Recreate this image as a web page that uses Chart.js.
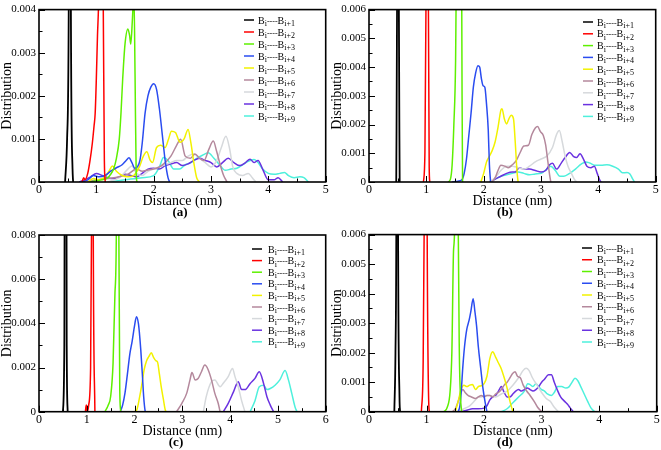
<!DOCTYPE html>
<html><head><meta charset="utf-8">
<script src="https://cdn.jsdelivr.net/npm/chart.js@4.4.0/dist/chart.umd.min.js"></script>
<style>
html,body{margin:0;padding:0;background:#fff;}
#wrap{position:relative;width:661px;height:450px;overflow:hidden;background:#fff;}
.p{position:absolute;}
.tag{position:absolute;font:bold 13px "Liberation Serif";transform:translate(-50%,-50%);white-space:nowrap;color:#000;}
</style></head><body><div id="wrap">
<div class="p" style="left:0;top:0"><canvas id="ca" width="330" height="225"></canvas></div>
<div class="p" style="left:330px;top:0"><canvas id="cb" width="331" height="225"></canvas></div>
<div class="p" style="left:0;top:225px"><canvas id="cc" width="330" height="225"></canvas></div>
<div class="p" style="left:330px;top:225px"><canvas id="cd" width="331" height="225"></canvas></div>
<div class="tag" style="left:180px;top:212px">(a)</div>
<div class="tag" style="left:505px;top:212px">(b)</div>
<div class="tag" style="left:176px;top:442px">(c)</div>
<div class="tag" style="left:505px;top:442px">(d)</div>
</div>
<script>
// ---- data ----
const panelTags = ['(a)', '(b)', '(c)', '(d)'];
const seriesSubs = ['i+1', 'i+2', 'i+3', 'i+4', 'i+5', 'i+6', 'i+7', 'i+8', 'i+9'];
const xMaxes = [5, 5, 6, 5];
const yMaxes = [0.004, 0.006, 0.008, 0.006];
const yMajorSteps = [0.001, 0.001, 0.002, 0.001];

// panel (a)
const a1 = [[0.455,0],[0.49,0.001],[0.52,0.0045],[0.54,0.02],[0.555,0.0045],[0.585,0.0003],[0.595,0]];
const a2 = [[0.75,0],[0.78,0.0001],[0.8,0.00005],[0.85,0.0002],[0.89,0.0005],[0.93,0.0009],[0.96,0.0013],[0.98,0.0016],[1.0,0.0024],[1.02,0.0034],[1.04,0.0042],[1.08,0.008],[1.12,0.0042],[1.14,0.0005],[1.155,0]];
const a3 = [[0.9,0],[1.0,0.00003],[1.1,0.00005],[1.2,0.0001],[1.25,0.00018],[1.3,0.0003],[1.35,0.00055],[1.4,0.001],[1.43,0.0016],[1.46,0.0024],[1.5,0.0032],[1.55,0.00355],[1.58,0.0034],[1.6,0.0032],[1.63,0.0038],[1.655,0.0044],[1.675,0.0025],[1.695,0.0002],[1.71,0]];
const a4 = [[0.75,0],[0.85,0.00005],[0.95,0.00015],[1.05,0.00012],[1.15,0.00015],[1.25,0.00025],[1.35,0.00033],[1.45,0.0004],[1.52,0.0005],[1.57,0.00056],[1.62,0.00045],[1.67,0.00032],[1.72,0.00036],[1.76,0.0005],[1.8,0.0009],[1.85,0.0016],[1.9,0.002],[1.95,0.0022],[2.0,0.00228],[2.05,0.00215],[2.1,0.0017],[2.15,0.0011],[2.2,0.0005],[2.25,0.0001],[2.28,0]];
const a5 = [[0.85,0],[0.95,0.00008],[1.05,0.00005],[1.15,0.00012],[1.22,0.00025],[1.28,0.00037],[1.35,0.00025],[1.45,0.00015],[1.55,0.00012],[1.65,0.00015],[1.75,0.00035],[1.82,0.0006],[1.88,0.0007],[1.94,0.0005],[1.98,0.00045],[2.05,0.0008],[2.12,0.00085],[2.2,0.0008],[2.26,0.001],[2.31,0.00118],[2.38,0.00115],[2.46,0.00092],[2.53,0.001],[2.6,0.00122],[2.65,0.0009],[2.7,0.00045],[2.75,0.0001],[2.8,0]];
const a6 = [[0.85,0],[1.0,0.00005],[1.2,0.00008],[1.4,0.00012],[1.55,0.00018],[1.7,0.0003],[1.8,0.00025],[1.9,0.00028],[2.0,0.0003],[2.1,0.00035],[2.2,0.00045],[2.3,0.0006],[2.4,0.00085],[2.47,0.00099],[2.55,0.0006],[2.64,0.00055],[2.72,0.00065],[2.8,0.00055],[2.88,0.0005],[2.96,0.00075],[3.04,0.00095],[3.1,0.0007],[3.16,0.0004],[3.22,0.00015],[3.28,0]];
const a7 = [[1.2,0],[1.4,0.0001],[1.55,0.0003],[1.62,0.00037],[1.7,0.0002],[1.8,0.00015],[1.9,0.00025],[2.0,0.0003],[2.1,0.00035],[2.2,0.0004],[2.3,0.00045],[2.4,0.0005],[2.5,0.0005],[2.6,0.0006],[2.7,0.00065],[2.8,0.00055],[2.9,0.00045],[3.0,0.00035],[3.1,0.0005],[3.18,0.0008],[3.26,0.00106],[3.32,0.0008],[3.38,0.00035],[3.45,0.0002],[3.55,0.00015],[3.65,0.0002],[3.72,0.0001],[3.78,0]];
const a8 = [[0.7,0],[0.8,0.00005],[0.9,0.00012],[1.0,0.0002],[1.1,0.00015],[1.2,0.0001],[1.3,0.00008],[1.4,0.00012],[1.5,0.00018],[1.6,0.00015],[1.7,0.00012],[1.8,0.0002],[1.9,0.0003],[2.0,0.00032],[2.1,0.0003],[2.2,0.00038],[2.3,0.00042],[2.4,0.00045],[2.5,0.00038],[2.6,0.00042],[2.7,0.0005],[2.8,0.00055],[2.9,0.0005],[3.0,0.00045],[3.1,0.00035],[3.2,0.00045],[3.3,0.00055],[3.4,0.00045],[3.5,0.00038],[3.6,0.00045],[3.68,0.00053],[3.75,0.00045],[3.82,0.0005],[3.9,0.0003],[4.0,0.00005],[4.1,0.00005],[4.17,0.0001],[4.25,0]];
const a9 = [[1.2,0],[1.5,0.00005],[1.8,0.0001],[2.0,0.00015],[2.1,0.00035],[2.17,0.00057],[2.25,0.0005],[2.35,0.0003],[2.45,0.0003],[2.55,0.0004],[2.65,0.00045],[2.75,0.00055],[2.85,0.00062],[2.95,0.00068],[3.05,0.00055],[3.15,0.0004],[3.25,0.00027],[3.35,0.0003],[3.45,0.00032],[3.55,0.0004],[3.65,0.00048],[3.75,0.00052],[3.82,0.00045],[3.9,0.0003],[4.0,0.0002],[4.1,0.00018],[4.2,0.0002],[4.28,0.00022],[4.35,0.00015],[4.45,0.0001],[4.55,0.00012],[4.62,0.0001],[4.7,0]];

// panel (b)
const b1 = [[0.475,0],[0.49,0.0065],[0.505,0.025],[0.52,0.0065],[0.535,0]];
const b2 = [[0.95,0],[0.975,0.001],[0.995,0.0065],[1.015,0.025],[1.035,0.0065],[1.05,0.0005],[1.06,0]];
const b3 = [[1.38,0],[1.42,0.0001],[1.45,0.0006],[1.48,0.002],[1.51,0.0042],[1.52,0.0065],[1.56,0.012],[1.605,0.012],[1.617,0.0065],[1.623,0.003],[1.632,0]];
const b4 = [[1.45,0],[1.55,0.00003],[1.62,0.00008],[1.66,0.0003],[1.7,0.0008],[1.74,0.0016],[1.78,0.0024],[1.82,0.0033],[1.86,0.0038],[1.9,0.00405],[1.93,0.004],[1.96,0.0036],[1.99,0.00335],[2.02,0.0033],[2.05,0.0027],[2.08,0.0018],[2.1,0.0006],[2.12,0]];
const b5 = [[1.95,0],[2.0,0.0003],[2.05,0.0007],[2.1,0.0009],[2.15,0.0011],[2.2,0.0014],[2.25,0.0019],[2.3,0.0025],[2.32,0.00255],[2.36,0.0022],[2.4,0.00202],[2.44,0.0022],[2.48,0.00232],[2.52,0.0022],[2.55,0.0014],[2.58,0.0004],[2.6,0]];
const b6 = [[2.15,0],[2.2,0.00015],[2.25,0.0004],[2.3,0.00058],[2.37,0.00055],[2.43,0.0005],[2.5,0.0006],[2.57,0.00075],[2.63,0.001],[2.7,0.00125],[2.78,0.00128],[2.84,0.00165],[2.9,0.00188],[2.94,0.00193],[2.99,0.00175],[3.04,0.00162],[3.08,0.0013],[3.12,0.0007],[3.15,0.00025],[3.17,0]];
const b7 = [[2.1,0],[2.2,0.00015],[2.3,0.0004],[2.4,0.00055],[2.5,0.00055],[2.6,0.0005],[2.7,0.00045],[2.8,0.00055],[2.9,0.0007],[3.0,0.0008],[3.1,0.0009],[3.2,0.0012],[3.27,0.00165],[3.32,0.00179],[3.37,0.0014],[3.42,0.0009],[3.47,0.00055],[3.53,0.0003],[3.58,0.0001],[3.62,0]];
const b8 = [[2.1,0],[2.2,0.0001],[2.3,0.0002],[2.4,0.0003],[2.5,0.00035],[2.55,0.00035],[2.62,0.0005],[2.7,0.00045],[2.8,0.00045],[2.9,0.0004],[3.0,0.00035],[3.08,0.0004],[3.15,0.0006],[3.2,0.00065],[3.27,0.00045],[3.35,0.00065],[3.42,0.00085],[3.5,0.00103],[3.57,0.00088],[3.62,0.00085],[3.68,0.00098],[3.74,0.0008],[3.8,0.00055],[3.87,0.0005],[3.93,0.00055],[3.98,0.0003],[4.03,0.00005],[4.05,0]];
const b9 = [[2.1,0],[2.2,0.0001],[2.3,0.0002],[2.4,0.00025],[2.5,0.0003],[2.6,0.00035],[2.7,0.0003],[2.8,0.00025],[2.9,0.00028],[3.0,0.0003],[3.1,0.00045],[3.17,0.00055],[3.25,0.0004],[3.33,0.0002],[3.4,0.0002],[3.5,0.0003],[3.6,0.00045],[3.7,0.00062],[3.78,0.0007],[3.85,0.00066],[3.95,0.00058],[4.05,0.00058],[4.15,0.0006],[4.25,0.00055],[4.35,0.00045],[4.42,0.00032],[4.5,0.00033],[4.55,0.00028],[4.6,0.0001],[4.63,0]];

// panel (c)
const c1 = [[0.5,0],[0.53,0.003],[0.555,0.04],[0.58,0.003],[0.6,0]];
const c2 = [[0.97,0],[0.99,0.0003],[1.01,0],[1.04,0.0003],[1.08,0.002],[1.1,0.0085],[1.12,0.03],[1.135,0.0085],[1.17,0]];
const c3 = [[1.38,0],[1.45,0.0003],[1.5,0.0007],[1.55,0.0022],[1.59,0.0054],[1.62,0.0085],[1.645,0.03],[1.67,0.0085],[1.69,0.001],[1.71,0]];
const c4 = [[1.7,0],[1.75,0.0003],[1.8,0.00085],[1.85,0.0017],[1.9,0.0026],[1.95,0.0032],[2.0,0.0039],[2.04,0.0043],[2.08,0.004],[2.1,0.0036],[2.13,0.0028],[2.16,0.0018],[2.19,0.0007],[2.22,0.00005],[2.23,0]];
const c5 = [[2.0,0],[2.05,0.0001],[2.1,0.0006],[2.15,0.0012],[2.2,0.0019],[2.25,0.0023],[2.3,0.0025],[2.35,0.00267],[2.4,0.00245],[2.45,0.0023],[2.48,0.00225],[2.52,0.0017],[2.56,0.0011],[2.6,0.0006],[2.64,0.0001],[2.66,0]];
const c6 = [[2.88,0],[2.99,0.00038],[3.09,0.00083],[3.16,0.00144],[3.2,0.00177],[3.27,0.00144],[3.33,0.0015],[3.4,0.00181],[3.47,0.00211],[3.54,0.0019],[3.61,0.00144],[3.68,0.00083],[3.75,0.00038],[3.79,0]];
const c7 = [[3.44,0],[3.5,0.00068],[3.61,0.00136],[3.68,0.00144],[3.79,0.00113],[3.86,0.0013],[3.96,0.00159],[4.05,0.00196],[4.1,0.0016],[4.17,0.00113],[4.24,0.0005],[4.31,0]];
const c8 = [[3.86,0],[3.96,0.00038],[4.07,0.0009],[4.17,0.00136],[4.24,0.001],[4.31,0.001],[4.42,0.00128],[4.52,0.00151],[4.61,0.00181],[4.7,0.00128],[4.77,0.00068],[4.84,0.0003],[4.91,0]];
const c9 = [[4.42,0],[4.52,0.0005],[4.61,0.00113],[4.7,0.0012],[4.77,0.001],[4.84,0.00105],[4.94,0.0012],[5.04,0.00144],[5.15,0.00186],[5.22,0.00144],[5.29,0.00083],[5.36,0.0002],[5.4,0]];

// panel (d)
const d1 = [[0.44,0],[0.46,0.002],[0.475,0.0065],[0.49,0.025],[0.505,0.0065],[0.53,0.0005],[0.54,0]];
const d2 = [[0.91,0],[0.94,0.0015],[0.96,0.0065],[0.985,0.025],[1.01,0.0065],[1.04,0.0002],[1.05,0]];
const d3 = [[1.3,0],[1.36,0.00015],[1.41,0.0007],[1.44,0.002],[1.47,0.0055],[1.49,0.0065],[1.52,0.025],[1.55,0.0065],[1.57,0.002],[1.59,0.0005],[1.61,0]];
const d4 = [[1.55,0],[1.58,0.0002],[1.6,0.0006],[1.63,0.0015],[1.66,0.0022],[1.7,0.0028],[1.74,0.0031],[1.77,0.0034],[1.81,0.00383],[1.84,0.0034],[1.87,0.0029],[1.9,0.0022],[1.94,0.0015],[1.98,0.0008],[2.02,0.0003],[2.05,0]];
const d5 = [[1.5,0],[1.55,0.00035],[1.6,0.00075],[1.65,0.0009],[1.7,0.00085],[1.75,0.0009],[1.8,0.00092],[1.85,0.00075],[1.9,0.00085],[1.95,0.00088],[2.0,0.00095],[2.05,0.0012],[2.1,0.0018],[2.15,0.00203],[2.2,0.00185],[2.25,0.00165],[2.3,0.00145],[2.35,0.00115],[2.4,0.0008],[2.45,0.00035],[2.5,0]];
const d6 = [[1.45,0],[1.5,0.0001],[1.55,0.00035],[1.6,0.00065],[1.63,0.00075],[1.67,0.00065],[1.72,0.00055],[1.78,0.0005],[1.85,0.00045],[1.9,0.0005],[1.95,0.00055],[2.0,0.0005],[2.05,0.00055],[2.1,0.00055],[2.15,0.0005],[2.2,0.0006],[2.25,0.00065],[2.3,0.00075],[2.35,0.0009],[2.4,0.001],[2.45,0.00115],[2.5,0.0013],[2.54,0.00135],[2.58,0.0012],[2.63,0.00115],[2.68,0.0009],[2.74,0.0007],[2.8,0.00055],[2.87,0.00035],[2.93,0.00015],[3.0,0]];
const d7 = [[1.55,0],[1.65,0.0001],[1.75,0.0002],[1.85,0.0004],[1.9,0.0005],[1.95,0.0005],[2.0,0.00055],[2.1,0.00055],[2.2,0.0005],[2.3,0.0006],[2.4,0.0007],[2.5,0.0009],[2.6,0.00115],[2.68,0.0014],[2.73,0.00147],[2.78,0.0014],[2.84,0.00115],[2.92,0.0009],[3.0,0.00065],[3.08,0.00045],[3.15,0.00035],[3.22,0.00015],[3.29,0]];
const d8 = [[1.6,0],[1.7,0.00005],[1.8,0.0001],[1.9,0.0001],[2.0,0.00012],[2.05,0.0002],[2.1,0.0004],[2.15,0.0005],[2.2,0.00055],[2.25,0.0007],[2.3,0.00085],[2.35,0.00065],[2.4,0.0005],[2.45,0.0005],[2.5,0.0006],[2.55,0.0007],[2.6,0.00075],[2.65,0.0007],[2.7,0.00075],[2.75,0.0008],[2.8,0.00075],[2.85,0.0007],[2.9,0.00075],[2.95,0.00085],[3.0,0.001],[3.05,0.0011],[3.12,0.00125],[3.17,0.00125],[3.22,0.001],[3.27,0.00075],[3.33,0.0005],[3.4,0.00035],[3.45,0.00025],[3.5,0.00012],[3.55,0]];
const d9 = [[2.3,0],[2.4,0.0001],[2.5,0.0003],[2.6,0.0005],[2.7,0.0007],[2.76,0.00095],[2.8,0.00092],[2.85,0.00085],[2.9,0.00095],[2.95,0.00085],[3.0,0.00075],[3.05,0.0007],[3.1,0.0006],[3.17,0.00055],[3.22,0.00065],[3.28,0.00085],[3.35,0.00085],[3.42,0.0008],[3.48,0.00085],[3.53,0.001],[3.58,0.00113],[3.63,0.00105],[3.68,0.00085],[3.74,0.0006],[3.8,0.00035],[3.86,0.00012],[3.92,0]];

const panelSeries = [
  [a1,a2,a3,a4,a5,a6,a7,a8,a9],
  [b1,b2,b3,b4,b5,b6,b7,b8,b9],
  [c1,c2,c3,c4,c5,c6,c7,c8,c9],
  [d1,d2,d3,d4,d5,d6,d7,d8,d9]
];

// ---- styles / layout ----
const seriesColors = ['#000000','#ff0000','#5ef000','#2a4cf0','#f2f200','#b4889c','#d6d9dc','#6a32e0','#4ef0dc'];
const FONT = '"Liberation Serif", "Times New Roman", serif';
const layouts = [
  {id:'ca', top:5,  right:4.3, bottom:15.6, xH:27.4, lg:{x0:244,x1:254,tx:258,y0:20,dy:12}},
  {id:'cb', top:5,  right:5.3, bottom:15.6, xH:27.4, lg:{x0:253,x1:263,tx:267,y0:22,dy:11.8}},
  {id:'cc', top:10, right:4.3, bottom:10.1, xH:28.2, lg:{x0:252,x1:262,tx:268,y0:24,dy:11.6}},
  {id:'cd', top:9,  right:4.3, bottom:10.1, xH:28.2, lg:{x0:252,x1:262,tx:267,y0:23,dy:11.75}}
];

const framePlugin = {
  id: 'frameTicks',
  afterDatasetsDraw(chart) {
    const {ctx, chartArea: a, scales: {x, y}} = chart;
    ctx.save();
    ctx.strokeStyle = '#000';
    ctx.lineWidth = 1;
    ctx.beginPath();
    const xt = x.ticks.map(t => t.value);
    const xs = xt.length > 1 ? xt[1] - xt[0] : 1;
    xt.forEach(v => {
      const px = Math.round(x.getPixelForValue(v)) + 0.5;
      ctx.moveTo(px, a.bottom); ctx.lineTo(px, a.bottom - 6);
      if (v + xs / 2 < x.max) {
        const pm = Math.round(x.getPixelForValue(v + xs / 2)) + 0.5;
        ctx.moveTo(pm, a.bottom); ctx.lineTo(pm, a.bottom - 3.5);
      }
    });
    const yt = y.ticks.map(t => t.value);
    const ys = yt.length > 1 ? yt[1] - yt[0] : 1;
    yt.forEach(v => {
      const py = Math.round(y.getPixelForValue(v)) + 0.5;
      ctx.moveTo(a.left, py); ctx.lineTo(a.left + 6, py);
      if (v + ys / 2 < y.max) {
        const pm = Math.round(y.getPixelForValue(v + ys / 2)) + 0.5;
        ctx.moveTo(a.left, pm); ctx.lineTo(a.left + 3.5, pm);
      }
    });
    ctx.stroke();
    ctx.lineWidth = 1.6;
    ctx.strokeRect(a.left, a.top, a.right - a.left, a.bottom - a.top);
    ctx.restore();
  }
};

const legendPlugin = {
  id: 'subLegend',
  afterDraw(chart, args, o) {
    const ctx = chart.ctx;
    ctx.save();
    chart.data.datasets.forEach((ds, i) => {
      const y = o.y0 + i * o.dy;
      ctx.strokeStyle = ds.borderColor;
      ctx.lineWidth = 1.5;
      ctx.beginPath(); ctx.moveTo(o.x0, y); ctx.lineTo(o.x1, y); ctx.stroke();
      ctx.fillStyle = '#000';
      ctx.textBaseline = 'alphabetic';
      ctx.textAlign = 'left';
      const base = y + 3.5;
      let x = o.tx;
      ctx.font = '10px ' + FONT; ctx.fillText('B', x, base); x += ctx.measureText('B').width;
      ctx.font = '8px ' + FONT; ctx.fillText('i', x, base + 2.5); x += ctx.measureText('i').width;
      ctx.fillText('----', x, base); x += ctx.measureText('----').width;
      ctx.font = '10px ' + FONT; ctx.fillText('B', x, base); x += ctx.measureText('B').width;
      ctx.font = '8px ' + FONT; ctx.fillText(ds.sub, x, base + 2.5);
    });
    ctx.restore();
  }
};

panelSeries.forEach((series, p) => {
  const L = layouts[p];
  new Chart(document.getElementById(L.id), {
    type: 'line',
    data: {
      datasets: series.map((pts, i) => ({
        label: 'B' + 'i' + '----' + 'B' + seriesSubs[i],
        sub: seriesSubs[i],
        data: pts,
        borderColor: seriesColors[i],
        borderWidth: i === 0 ? 1.8 : 1.5,
        pointRadius: 0,
        fill: false,
        cubicInterpolationMode: 'monotone'
      }))
    },
    options: {
      responsive: false,
      animation: false,
      events: [],
      layout: {autoPadding: false, padding: {left: 0, top: L.top, right: L.right, bottom: L.bottom}},
      plugins: {legend: {display: false}, tooltip: {enabled: false}, subLegend: L.lg},
      scales: {
        x: {
          type: 'linear', min: 0, max: xMaxes[p],
          grid: {display: false, drawTicks: false, tickLength: 0}, border: {display: false},
          ticks: {stepSize: 1, padding: 1, color: '#000', font: {family: FONT, size: 12}, maxRotation: 0,
                  callback: v => String(v)},
          title: {display: true, text: 'Distance (nm)', color: '#000', padding: {top: 0, bottom: 0},
                  font: {family: FONT, size: 14, lineHeight: 1.2}},
          afterFit: s => { s.height = L.xH; }
        },
        y: {
          type: 'linear', min: 0, max: yMaxes[p],
          grid: {display: false, drawTicks: false, tickLength: 0}, border: {display: false},
          ticks: {stepSize: yMajorSteps[p], padding: 3, color: '#000', font: {family: FONT, size: 11},
                  callback: v => (Math.abs(v) < 1e-12 ? '0' : v.toFixed(3))},
          title: {display: true, text: 'Distribution', color: '#000', padding: {top: 0, bottom: 0},
                  font: {family: FONT, size: 14, lineHeight: 1.1}},
          afterFit: s => { s.width = 39; }
        }
      }
    },
    plugins: [framePlugin, legendPlugin]
  });
});
</script>
</body></html>
